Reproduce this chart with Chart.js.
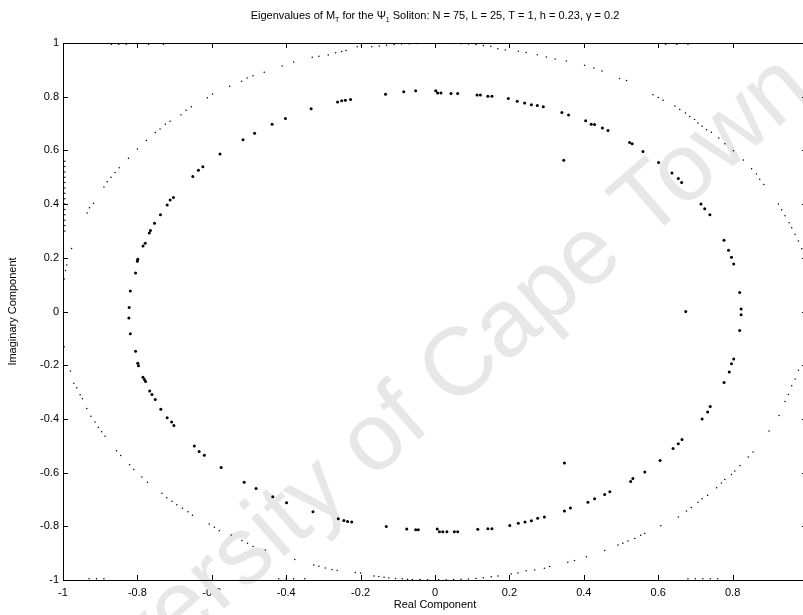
<!DOCTYPE html>
<html>
<head>
<meta charset="utf-8">
<script src="https://cdn.jsdelivr.net/npm/chart.js@4.4.1/dist/chart.umd.min.js"></script>
<style>
  html, body { margin: 0; padding: 0; background: #fff; overflow: hidden; width: 803px; height: 615px; }
  #wrap { position: relative; width: 803px; height: 615px; overflow: hidden; }
  #eig { position: absolute; left: 0; top: 0; }
</style>
</head>
<body>
<div id="wrap"><canvas id="eig" width="810" height="615"></canvas></div>
<script>
// inner eigenvalue set (larger dots)
const innerRe = [0.002, -0.052, -0.084, -0.133, -0.227, -0.241, -0.251, -0.262, -0.333, -0.402, -0.438, -0.485, -0.516, -0.578, -0.624, -0.636, -0.651, -0.703, -0.712, -0.720, -0.738, -0.754, -0.765, -0.768, -0.779, -0.785, -0.799, -0.800, -0.805, -0.819, -0.822, -0.823, -0.819, -0.805, -0.799, -0.797, -0.785, -0.781, -0.778, -0.767, -0.761, -0.752, -0.737, -0.720, -0.708, -0.702, -0.647, -0.634, -0.620, -0.575, -0.513, -0.481, -0.436, -0.399, -0.328, -0.260, -0.245, -0.235, -0.224, -0.131, -0.076, -0.052, -0.045, 0.006,
  0.007, 0.016, 0.043, 0.061, 0.113, 0.122, 0.142, 0.153, 0.197, 0.221, 0.241, 0.259, 0.275, 0.291, 0.341, 0.359, 0.405, 0.420, 0.429, 0.450, 0.465, 0.523, 0.530, 0.559, 0.601, 0.637, 0.654, 0.663, 0.715, 0.725, 0.739, 0.777, 0.789, 0.797, 0.803, 0.819, 0.823, 0.823, 0.819, 0.803, 0.797, 0.791, 0.777, 0.740, 0.733, 0.718, 0.664, 0.654, 0.640, 0.605, 0.564, 0.532, 0.526, 0.470, 0.456, 0.429, 0.411, 0.364, 0.348, 0.294, 0.276, 0.259, 0.242, 0.224, 0.201, 0.153, 0.142, 0.115, 0.061, 0.052, 0.032, 0.021, 0.012,
  0.346, 0.674, 0.348];
const innerIm = [0.822, 0.822, 0.818, 0.809, 0.790, 0.787, 0.785, 0.780, 0.755, 0.719, 0.697, 0.664, 0.640, 0.587, 0.539, 0.526, 0.503, 0.425, 0.415, 0.397, 0.360, 0.329, 0.302, 0.292, 0.254, 0.244, 0.195, 0.187, 0.143, 0.076, 0.015, -0.024, -0.083, -0.148, -0.193, -0.202, -0.245, -0.253, -0.261, -0.296, -0.309, -0.328, -0.364, -0.396, -0.412, -0.425, -0.501, -0.521, -0.535, -0.581, -0.636, -0.659, -0.690, -0.712, -0.746, -0.772, -0.778, -0.782, -0.784, -0.801, -0.810, -0.813, -0.813, -0.810,
  0.814, 0.814, 0.812, 0.812, 0.806, 0.806, 0.802, 0.802, 0.793, 0.783, 0.777, 0.770, 0.767, 0.763, 0.741, 0.732, 0.710, 0.697, 0.696, 0.683, 0.674, 0.629, 0.625, 0.596, 0.555, 0.516, 0.495, 0.480, 0.400, 0.383, 0.360, 0.265, 0.228, 0.202, 0.177, 0.071, 0.009, -0.012, -0.071, -0.177, -0.195, -0.225, -0.264, -0.354, -0.374, -0.400, -0.477, -0.493, -0.510, -0.555, -0.598, -0.622, -0.633, -0.671, -0.682, -0.697, -0.710, -0.732, -0.743, -0.765, -0.770, -0.779, -0.784, -0.789, -0.797, -0.809, -0.809, -0.811, -0.820, -0.820, -0.820, -0.820, -0.820,
  0.563, 0.0, -0.564];

// outer eigenvalue set (tiny dots, close to the unit circle)
const outerRe = [-0.198, -0.209, -0.239, -0.251, -0.267, -0.287, -0.312, -0.330, -0.380, -0.411, -0.459, -0.489, -0.505, -0.520, -0.552, -0.598, -0.612, -0.655, -0.669, -0.683, -0.712, -0.725, -0.739, -0.752, -0.776, -0.800, -0.824, -0.849, -0.860, -0.871, -0.881, -0.890, -0.918, -0.929, -0.935, -0.977, -0.990, -0.993, -0.997,
  -0.997, -0.980, -0.971, -0.963, -0.954, -0.948, -0.936, -0.925, -0.914, -0.905, -0.896, -0.887, -0.856, -0.845, -0.821, -0.810, -0.788, -0.773, -0.734, -0.721, -0.707, -0.694, -0.679, -0.664, -0.652, -0.607, -0.593, -0.580, -0.548, -0.519, -0.504, -0.489, -0.456, -0.377, -0.326, -0.312, -0.295, -0.277, -0.263, -0.214, -0.200, -0.164, -0.151, -0.137, -0.124, -0.106, -0.088, -0.074, -0.061,
  -0.04, -0.02, 0.01, 0.03, 0.05, 0.07, 0.09, 0.11, 0.13,
  0.151, 0.169, 0.205, 0.223, 0.245, 0.268, 0.294, 0.308, 0.357, 0.375, 0.407, 0.456, 0.492, 0.505, 0.519, 0.537, 0.553, 0.564, 0.607, 0.654, 0.676, 0.689, 0.707, 0.718, 0.733, 0.757, 0.770, 0.779, 0.797, 0.806, 0.820, 0.842, 0.855, 0.898, 0.925, 0.941, 0.950, 0.959, 0.968, 0.977, 0.993,
  0.993, 0.986, 0.977, 0.968, 0.959, 0.952, 0.941, 0.932, 0.923, 0.884, 0.873, 0.864, 0.851, 0.829, 0.802, 0.779, 0.763, 0.743, 0.730, 0.718, 0.707, 0.698, 0.685, 0.673, 0.658, 0.645, 0.613, 0.600, 0.586, 0.515, 0.496, 0.449, 0.427, 0.402, 0.353, 0.323, 0.299, 0.275, 0.245, 0.224, 0.189, 0.169,
  0.15, 0.13, 0.11, 0.09, 0.07, 0.05, 0.03, 0.01, -0.01, -0.03, -0.05, -0.07, -0.09, -0.11, -0.13, -0.15, -0.17,
  -0.995, -0.995, -0.995, -0.995, -0.995, -0.995, -0.995, -0.995, -0.995, -0.995, -0.995, -0.995, -0.995, -0.995,
  -0.87, -0.85, -0.83, -0.80, -0.77, -0.73, 0.62, 0.65, 0.68,
  -0.93, -0.91, -0.89, -0.42, -0.40, -0.38, -0.35, 0.68, 0.70, 0.72, 0.74, 0.76];
const outerIm = [0.991, 0.986, 0.972, 0.968, 0.964, 0.955, 0.951, 0.947, 0.929, 0.914, 0.891, 0.878, 0.870, 0.858, 0.839, 0.810, 0.796, 0.763, 0.750, 0.733, 0.709, 0.697, 0.680, 0.667, 0.637, 0.605, 0.571, 0.535, 0.518, 0.500, 0.483, 0.464, 0.403, 0.386, 0.367, 0.235, 0.173, 0.153, 0.121,
  -0.131, -0.222, -0.267, -0.284, -0.310, -0.325, -0.361, -0.390, -0.412, -0.431, -0.448, -0.465, -0.519, -0.536, -0.571, -0.588, -0.616, -0.636, -0.677, -0.694, -0.707, -0.720, -0.733, -0.746, -0.759, -0.791, -0.804, -0.817, -0.832, -0.853, -0.863, -0.875, -0.888, -0.924, -0.944, -0.949, -0.955, -0.961, -0.965, -0.972, -0.974, -0.985, -0.987, -0.990, -0.993, -0.994, -0.995, -0.997, -0.998,
  -0.998, -0.999, -0.999, -0.999, -0.998, -0.997, -0.996, -0.994, -0.992,
  -0.988, -0.985, -0.978, -0.974, -0.966, -0.963, -0.956, -0.950, -0.934, -0.927, -0.913, -0.890, -0.870, -0.863, -0.855, -0.845, -0.833, -0.827, -0.798, -0.765, -0.743, -0.730, -0.710, -0.697, -0.684, -0.656, -0.639, -0.626, -0.607, -0.594, -0.574, -0.542, -0.523, -0.445, -0.387, -0.335, -0.309, -0.277, -0.251, -0.219, -0.141,
  0.206, 0.234, 0.263, 0.288, 0.312, 0.331, 0.357, 0.379, 0.400, 0.473, 0.493, 0.512, 0.532, 0.564, 0.599, 0.625, 0.646, 0.668, 0.677, 0.690, 0.702, 0.715, 0.726, 0.739, 0.752, 0.765, 0.787, 0.797, 0.807, 0.860, 0.868, 0.896, 0.907, 0.917, 0.933, 0.940, 0.948, 0.956, 0.965, 0.969, 0.974, 0.979,
  0.988, 0.991, 0.994, 0.996, 0.997, 0.998, 0.999, 0.999, 0.999, 0.999, 0.998, 0.997, 0.996, 0.994, 0.992, 0.989, 0.986,
  0.30, 0.32, 0.34, 0.36, 0.38, 0.40, 0.42, 0.44, 0.46, 0.48, 0.50, 0.52, 0.54, 0.56,
  0.995, 0.995, 0.995, 0.995, 0.995, 0.995, 0.995, 0.995, 0.995,
  -0.995, -0.995, -0.995, -0.995, -0.995, -0.995, -0.995, -0.995, -0.995, -0.995, -0.995, -0.995];

const xTicks = [-1, -0.8, -0.6, -0.4, -0.2, 0, 0.2, 0.4, 0.6, 0.8, 1];
const yTicks = [-1, -0.8, -0.6, -0.4, -0.2, 0, 0.2, 0.4, 0.6, 0.8, 1];

const FONT = '"Liberation Sans", Arial, sans-serif';

function pairs(re, im) {
    return re.map((r, i) => ({ x: r, y: im[i] }));
}

// faint diagonal watermark behind the points
const watermark = {
    id: 'watermark',
    beforeDatasetsDraw(chart) {
        const ctx = chart.ctx;
        ctx.save();
        ctx.translate(815, 95);
        ctx.rotate(-41 * Math.PI / 180);
        ctx.font = '96px ' + FONT;
        ctx.fillStyle = '#e7e7e7';
        ctx.textAlign = 'right';
        ctx.textBaseline = 'alphabetic';
        ctx.fillText('University of Cape Town', 0, 0);
        ctx.restore();
    }
};

// matlab style box with inward ticks on all sides
const boxTicks = {
    id: 'boxTicks',
    afterDraw(chart) {
        const { ctx, chartArea: a, scales: { x, y } } = chart;
        ctx.save();
        ctx.strokeStyle = '#000';
        ctx.lineWidth = 1;
        ctx.strokeRect(a.left + 0.5, a.top + 0.5, a.right - a.left, a.bottom - a.top);
        ctx.beginPath();
        xTicks.forEach(v => {
            const px = Math.round(x.getPixelForValue(v)) + 0.5;
            ctx.moveTo(px, a.bottom); ctx.lineTo(px, a.bottom - 5);
            ctx.moveTo(px, a.top); ctx.lineTo(px, a.top + 5);
        });
        yTicks.forEach(v => {
            const py = Math.round(y.getPixelForValue(v)) + 0.5;
            ctx.moveTo(a.left, py); ctx.lineTo(a.left + 5, py);
            ctx.moveTo(a.right, py); ctx.lineTo(a.right - 5, py);
        });
        ctx.stroke();
        ctx.restore();
    }
};

// title with subscripts
const titleText = {
    id: 'titleText',
    afterDraw(chart) {
        const ctx = chart.ctx;
        const parts = [
            ['Eigenvalues of M', false], ['T', true], [' for the \u03A8', false], ['1', true],
            [' Soliton: N = 75, L = 25, T = 1, h = 0.23, \u03B3 = 0.2', false]
        ];
        ctx.save();
        ctx.fillStyle = '#000';
        ctx.textBaseline = 'alphabetic';
        let total = 0;
        parts.forEach(([t, sub]) => {
            ctx.font = (sub ? '7px ' : '11px ') + FONT;
            total += ctx.measureText(t).width;
        });
        let cx = 435 - total / 2;
        parts.forEach(([t, sub]) => {
            ctx.font = (sub ? '7px ' : '11px ') + FONT;
            ctx.fillText(t, cx, sub ? 22 : 19);
            cx += ctx.measureText(t).width;
        });
        ctx.restore();
    }
};

const tickFmt = v => String(+v.toFixed(1));

new Chart(document.getElementById('eig'), {
    type: 'scatter',
    data: {
        datasets: [
            {
                label: 'inner',
                data: pairs(innerRe, innerIm),
                backgroundColor: '#000',
                borderWidth: 0,
                pointRadius: 1.5,
                pointHoverRadius: 1.5
            },
            {
                label: 'outer',
                data: pairs(outerRe, outerIm),
                backgroundColor: '#000',
                borderWidth: 0,
                pointRadius: 0.75,
                pointHoverRadius: 0.75
            }
        ]
    },
    options: {
        responsive: false,
        animation: false,
        layout: { padding: { top: 43, right: 3, left: 0, bottom: 0 } },
        plugins: {
            legend: { display: false },
            tooltip: { enabled: false },
            title: { display: false }
        },
        scales: {
            x: {
                type: 'linear',
                min: -1,
                max: 1,
                afterBuildTicks: s => { s.ticks = xTicks.map(v => ({ value: v })); },
                afterFit: s => { s.height = 35; s.paddingLeft = 0; s.paddingRight = 0; },
                grid: { display: false, drawTicks: false },
                border: { display: false },
                ticks: { font: { family: FONT, size: 11 }, color: '#000', padding: 6, callback: tickFmt, maxRotation: 0, autoSkip: false },
                title: { display: true, text: 'Real Component', font: { family: FONT, size: 11 }, color: '#000', padding: { top: 0, bottom: 3 } }
            },
            y: {
                type: 'linear',
                min: -1,
                max: 1,
                afterBuildTicks: s => { s.ticks = yTicks.map(v => ({ value: v })); },
                afterFit: s => { s.width = 63; s.paddingTop = 0; s.paddingBottom = 0; },
                grid: { display: false, drawTicks: false },
                border: { display: false },
                ticks: { font: { family: FONT, size: 11 }, color: '#000', padding: 4, callback: tickFmt, autoSkip: false },
                title: { display: true, text: 'Imaginary Component', font: { family: FONT, size: 11 }, color: '#000', padding: { top: 6, bottom: 0 } }
            }
        }
    },
    plugins: [watermark, boxTicks, titleText]
});
</script>
</body>
</html>
